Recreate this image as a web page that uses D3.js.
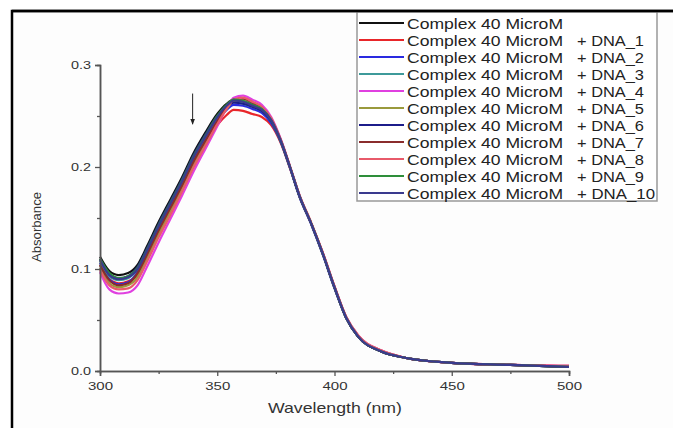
<!DOCTYPE html>
<html>
<head>
<meta charset="utf-8">
<script src="https://cdn.jsdelivr.net/npm/d3@7"></script>
<style>
  body { margin: 0; background: #fff; }
  svg { display: block; font-family: "Liberation Sans", Arial, sans-serif; }
</style>
</head>
<body>
<div id="chart"></div>
<script>
// wavelengths (nm) shared by every spectrum
const wavelengths = [300,304,308,312,316,320,325,330,335,340,345,350,354,357,361,365,369,373,377,381,385,390,395,400,405,410,420,430,450,475,500];

const complexOnly = [0.112,0.098,0.094,0.096,0.104,0.122,0.146,0.168,0.190,0.214,0.234,0.252,0.262,0.266,0.264,0.261,0.257,0.246,0.226,0.200,0.172,0.145,0.115,0.082,0.052,0.034,0.019,0.013,0.008,0.006,0.004];
const dna1  = [0.104,0.090,0.086,0.088,0.094,0.111,0.135,0.157,0.179,0.203,0.223,0.241,0.251,0.256,0.255,0.252,0.249,0.241,0.224,0.199,0.172,0.145,0.116,0.083,0.053,0.035,0.020,0.013,0.008,0.006,0.005];
const dna2  = [0.106,0.090,0.085,0.087,0.097,0.116,0.140,0.162,0.184,0.208,0.228,0.246,0.256,0.261,0.260,0.257,0.253,0.243,0.225,0.199,0.171,0.144,0.114,0.081,0.052,0.034,0.019,0.013,0.008,0.006,0.004];
const dna3  = [0.108,0.093,0.089,0.091,0.100,0.118,0.142,0.164,0.186,0.210,0.230,0.249,0.259,0.264,0.262,0.259,0.255,0.245,0.226,0.200,0.172,0.145,0.115,0.082,0.052,0.034,0.019,0.013,0.008,0.006,0.004];
const dna4  = [0.097,0.080,0.076,0.077,0.084,0.102,0.126,0.149,0.172,0.196,0.218,0.240,0.258,0.268,0.270,0.266,0.261,0.249,0.228,0.201,0.173,0.145,0.116,0.083,0.053,0.035,0.020,0.013,0.008,0.006,0.005];
const dna5  = [0.101,0.086,0.082,0.084,0.092,0.110,0.134,0.156,0.178,0.202,0.223,0.243,0.257,0.264,0.265,0.261,0.257,0.246,0.226,0.200,0.172,0.145,0.115,0.082,0.052,0.034,0.019,0.013,0.008,0.006,0.004];
const dna6  = [0.110,0.095,0.091,0.093,0.102,0.120,0.144,0.166,0.188,0.212,0.232,0.250,0.259,0.263,0.262,0.259,0.255,0.245,0.226,0.200,0.172,0.145,0.115,0.082,0.052,0.034,0.019,0.013,0.008,0.006,0.004];
const dna7  = [0.104,0.089,0.084,0.086,0.096,0.114,0.138,0.160,0.182,0.206,0.226,0.245,0.259,0.266,0.267,0.263,0.258,0.247,0.227,0.200,0.172,0.145,0.115,0.082,0.052,0.034,0.019,0.013,0.008,0.006,0.004];
const dna8  = [0.099,0.084,0.080,0.081,0.089,0.107,0.131,0.153,0.176,0.200,0.221,0.242,0.257,0.266,0.268,0.264,0.259,0.248,0.227,0.201,0.173,0.146,0.116,0.083,0.053,0.035,0.020,0.013,0.008,0.006,0.005];
const dna9  = [0.110,0.096,0.091,0.093,0.101,0.119,0.143,0.165,0.187,0.211,0.231,0.250,0.261,0.266,0.265,0.261,0.257,0.246,0.226,0.200,0.172,0.145,0.115,0.082,0.052,0.034,0.019,0.013,0.008,0.006,0.004];
const dna10 = [0.109,0.094,0.090,0.092,0.100,0.118,0.142,0.164,0.186,0.210,0.230,0.249,0.260,0.265,0.264,0.260,0.256,0.246,0.226,0.200,0.172,0.145,0.115,0.082,0.052,0.034,0.019,0.013,0.008,0.006,0.004];

const seriesNames = ["Complex 40 MicroM","+ DNA_1","+ DNA_2","+ DNA_3","+ DNA_4","+ DNA_5","+ DNA_6","+ DNA_7","+ DNA_8","+ DNA_9","+ DNA_10"];
const seriesValues = [complexOnly, dna1, dna2, dna3, dna4, dna5, dna6, dna7, dna8, dna9, dna10];
const seriesColors = ["#111111","#e8262a","#2a2ae0","#3e9a9a","#e040e0","#9a9a3c","#1c1c8a","#8a2c2c","#e85a6a","#2e8e3a","#3a3a8e"];

const xTicks = [300, 350, 400, 450, 500];
const yTicks = [0.0, 0.1, 0.2, 0.3];

const W = 673, H = 428;
const svg = d3.select("#chart").append("svg").attr("width", W).attr("height", H);

// outer frame (only left/top edges are inside the picture)
svg.append("rect").attr("x", 0).attr("y", 0).attr("width", W).attr("height", H).attr("fill", "#fff");
svg.append("rect").attr("x", 12).attr("y", 11).attr("width", 800).attr("height", 600)
    .attr("fill", "#fdfdfd").attr("stroke", "#000").attr("stroke-width", 2.5);

const xScale = d3.scaleLinear().domain([300, 500]).range([100, 569]);
const yScale = d3.scaleLinear().domain([0, 0.3]).range([371, 65]);

// curves
const line = d3.line()
    .x((d, i) => xScale(wavelengths[i]))
    .y(d => yScale(d))
    .curve(d3.curveMonotoneX);

svg.append("g").selectAll("path")
    .data(seriesValues)
    .enter()
    .append("path")
    .attr("d", d => line(d))
    .attr("fill", "none")
    .attr("stroke", (d, i) => seriesColors[i])
    .attr("stroke-width", 2.2)
    .attr("stroke-linejoin", "round");

// axes
const xAxis = d3.axisBottom(xScale).tickValues(xTicks).tickSize(5).tickFormat(d3.format("d"));
const xMinor = d3.axisBottom(xScale).tickValues([325, 375, 425, 475]).tickSize(3).tickFormat("");
const yAxis = d3.axisLeft(yScale).tickValues(yTicks).tickSize(5).tickFormat(d3.format(".1f"));
const yMinor = d3.axisLeft(yScale).tickValues([0.05, 0.15, 0.25]).tickSize(3).tickFormat("");

function styleAxis(g) {
    g.select(".domain").attr("stroke", "#555").attr("stroke-width", 1.5);
    g.selectAll(".tick line").attr("stroke", "#555").attr("stroke-width", 1.3);
    g.selectAll(".tick text").attr("fill", "#333").attr("font-size", 11.5)
        .attr("font-family", "Liberation Sans, Arial, sans-serif")
        .attr("lengthAdjust", "spacingAndGlyphs");
}

svg.append("g").attr("transform", "translate(0,371)").call(xAxis).call(styleAxis)
    .selectAll(".tick text").attr("dy", "0.95em").attr("textLength", 25);
svg.append("g").attr("transform", "translate(0,371)").call(xMinor).call(styleAxis);
svg.append("g").attr("transform", "translate(100,0)").call(yAxis).call(styleAxis)
    .selectAll(".tick text").attr("x", -9).attr("textLength", 20);
svg.append("g").attr("transform", "translate(100,0)").call(yMinor).call(styleAxis);

// axis titles
svg.append("text")
    .attr("x", 268).attr("y", 413)
    .attr("font-size", 15).attr("fill", "#333")
    .attr("textLength", 134).attr("lengthAdjust", "spacingAndGlyphs")
    .text("Wavelength (nm)");
svg.append("text")
    .attr("transform", "translate(41,262) rotate(-90)")
    .attr("font-size", 12.5).attr("fill", "#333")
    .attr("textLength", 70).attr("lengthAdjust", "spacingAndGlyphs")
    .text("Absorbance");

// arrow marking the hypochromic change
svg.append("defs").append("marker")
    .attr("id", "arrowHead")
    .attr("viewBox", "0 0 10 10")
    .attr("refX", 9).attr("refY", 5)
    .attr("markerWidth", 6).attr("markerHeight", 6)
    .attr("orient", "auto")
    .append("path").attr("d", "M0,1 L10,5 L0,9 Z").attr("fill", "#222");
svg.append("line")
    .attr("x1", xScale(339.5)).attr("y1", yScale(0.272))
    .attr("x2", xScale(339.5)).attr("y2", yScale(0.242))
    .attr("stroke", "#222").attr("stroke-width", 1)
    .attr("marker-end", "url(#arrowHead)");

// legend
const legend = svg.append("g");
legend.append("rect")
    .attr("x", 357).attr("y", 12).attr("width", 300).attr("height", 189)
    .attr("fill", "#fff").attr("stroke", "#999").attr("stroke-width", 1.5);
// frame top edge over legend
svg.append("line").attr("x1", 12).attr("x2", W).attr("y1", 11).attr("y2", 11)
    .attr("stroke", "#000").attr("stroke-width", 2.5);

const rows = legend.selectAll("g.row")
    .data(seriesNames)
    .enter()
    .append("g")
    .attr("class", "row")
    .attr("transform", (d, i) => "translate(0," + (23 + i * 17) + ")");
rows.append("line")
    .attr("x1", 359).attr("x2", 404)
    .attr("stroke", (d, i) => seriesColors[i])
    .attr("stroke-width", 2.2);
rows.append("text")
    .attr("x", 407).attr("y", 5.5)
    .attr("font-size", 15).attr("fill", "#222")
    .attr("textLength", 156).attr("lengthAdjust", "spacingAndGlyphs")
    .text("Complex 40 MicroM");
rows.filter((d, i) => i > 0).append("text")
    .attr("x", 577).attr("y", 5.5)
    .attr("font-size", 15).attr("fill", "#222")
    .attr("textLength", (d, i) => d.length > 7 ? 78 : 67)
    .attr("lengthAdjust", "spacingAndGlyphs")
    .text(d => d);
</script>
</body>
</html>
